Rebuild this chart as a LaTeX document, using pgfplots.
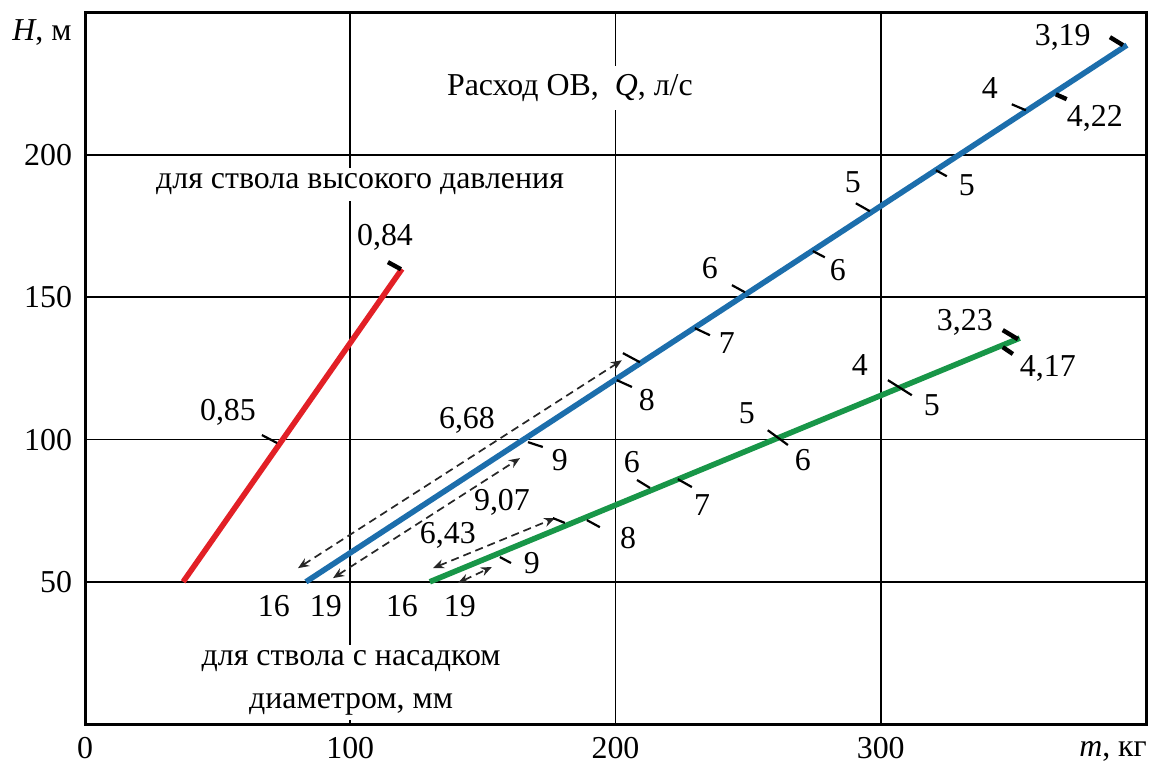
\documentclass[border=0pt]{standalone}
\usepackage{fontspec}
\setmainfont{Liberation Serif}
\usepackage{pgfplots}
\pgfplotsset{compat=1.18}
\usetikzlibrary{arrows.meta}
\definecolor{cred}{RGB}{226,32,38}
\definecolor{cblue}{RGB}{28,110,172}
\definecolor{cgreen}{RGB}{24,150,72}
\begin{document}
\fontsize{16}{19}\selectfont
\begin{tikzpicture}
\begin{axis}[
  at={(0,0)}, anchor=south west,
  scale only axis, width=530.5bp, height=355.5bp,
  xmin=0, xmax=400, ymin=0, ymax=250,
  xtick={0,100,200,300}, ytick={50,100,150,200},
  grid=major, major grid style={black, line width=0.9bp},
  axis line style={black, line width=1.5bp},
  major tick length=0pt,
  /pgf/number format/assume math mode=true,
  xticklabel style={inner sep=1bp, yshift=-5.5bp},
  yticklabel style={xshift=-1bp},
  clip=false,
  xlabel={\textit{m}, кг},
  xlabel style={inner sep=1bp, at={(axis description cs:0.9689,-0.039)}, anchor=center},
  ylabel={\textit{H}, м},
  ylabel style={rotate=-90, at={(axis description cs:-0.0405,0.972)}, anchor=center},
  unbounded coords=jump,
]
% text blocks
\node[fill=white, inner sep=3bp] at (axis cs:103.7,189.8) {для ствола высокого давления};
\node[fill=white, inner sep=4bp] at (axis cs:182.8,223.6) {Расход ОВ,~ \textit{Q}, л/с};
\node[fill=white, align=center, inner sep=2.5bp, font=\fontsize{16}{21.5}\selectfont] at (axis cs:100.3,14.6) {для ствола с насадком\\диаметром, мм};

% main lines
\addplot[cred, line width=2.8bp] coordinates {(37,50) (119.5,160)};
\addplot[cblue, line width=2.8bp] coordinates {(83.3,50) (392.8,238.7)};
\addplot[cgreen, line width=2.8bp] coordinates {(130,50) (352.4,135.7)};

% dashed arrows
\addplot[black!85, line width=0.85bp, dash pattern=on 4bp off 2.5bp, {Stealth[length=5.5bp,width=4.5bp]}-{Stealth[length=5.5bp,width=4.5bp]}] coordinates {(80.3,54.8) (202.4,127.9)};
\addplot[black!85, line width=0.85bp, dash pattern=on 4bp off 2.5bp, {Stealth[length=5.5bp,width=4.5bp]}-{Stealth[length=5.5bp,width=4.5bp]}] coordinates {(93.5,51.3) (164.0,93.5)};
\addplot[black!85, line width=0.85bp, dash pattern=on 4bp off 2.5bp, {Stealth[length=5.5bp,width=4.5bp]}-{Stealth[length=5.5bp,width=4.5bp]}] coordinates {(131.2,54.8) (177.2,72.4)};
\addplot[black!85, line width=0.85bp, dash pattern=on 4bp off 2.5bp, {Stealth[length=5.5bp,width=4.5bp]}-{Stealth[length=5.5bp,width=4.5bp]}] coordinates {(140.6,49.6) (153.4,55.2)};

% thin scale ticks
\addplot[black, line width=1.1bp] coordinates {
  (66.7,101.6) (72.4,98.8) (70,nan)
  (349.4,217.9) (354.7,215.8) (350,nan)
  (290.6,183.1) (295.9,180.3) (290,nan)
  (320.8,194.7) (324.9,192.6) (320,nan)
  (274.4,166.3) (278.9,164.1) (270,nan)
  (243.9,154.3) (248.8,151.8) (240,nan)
  (229.9,139.2) (235.6,136.7) (230,nan)
  (202.8,130.4) (209.2,127.2) (200,nan)
  (200.5,120.9) (206.2,118.5) (200,nan)
  (167.0,99.1) (172.6,97.4) (170,nan)
  (302.7,120.9) (311.7,115.6) (300,nan)
  (257.4,103.3) (265.0,98.1) (260,nan)
  (208.1,85.8) (213.0,83.0) (210,nan)
  (223.5,86.1) (228.8,83.3) (220,nan)
  (176.4,72.4) (180.9,70.7) (180,nan)
  (189.2,71.7) (194.1,69.2) (190,nan)
  (156.4,58.7) (160.6,56.6)
};
% thick end ticks
\addplot[black, line width=2.2bp] coordinates {
  (114.2,162.4) (119.1,159.9) (110,nan)
  (386.4,241.5) (391.3,238.7) (390,nan)
  (366.0,221.4) (370.1,219.7) (370,nan)
  (346.0,138.5) (351.7,135.3) (350,nan)
  (346.0,132.5) (349.8,130.1)
};

% value labels
\node at (axis cs:113.1,171.2) {0,84};
\node at (axis cs:53.9,109.7) {0,85};
\node at (axis cs:368.6,241.5) {3,19};
\node at (axis cs:341.1,223.6) {4};
\node at (axis cs:380.7,213.0) {4,22};
\node at (axis cs:289.5,190.5) {5};
\node at (axis cs:332.5,189.5) {5};
\node at (axis cs:283.8,159.6) {6};
\node at (axis cs:235.6,160.3) {6};
\node at (axis cs:242.0,133.9) {7};
\node at (axis cs:211.8,113.9) {8};
\node at (axis cs:179.0,92.8) {9};
\node at (axis cs:144.0,106.9) {6,68};
\node at (axis cs:157.2,78.0) {9,07};
\node at (axis cs:136.8,66.4) {6,43};
\node at (axis cs:331.7,141.3) {3,23};
\node at (axis cs:363.0,125.1) {4,17};
\node at (axis cs:292.1,126.2) {4};
\node at (axis cs:319.3,112.1) {5};
\node at (axis cs:249.5,109.3) {5};
\node at (axis cs:270.6,92.8) {6};
\node at (axis cs:206.2,92.1) {6};
\node at (axis cs:232.6,77.0) {7};
\node at (axis cs:204.7,65.4) {8};
\node at (axis cs:168.5,56.6) {9};
\node at (axis cs:71.2,41.5) {16};
\node at (axis cs:90.8,41.5) {19};
\node at (axis cs:119.5,41.5) {16};
\node at (axis cs:141.3,41.5) {19};
\end{axis}
\pgfresetboundingbox
\path (-42.5bp,-20.5bp) rectangle (538bp,362bp);
\end{tikzpicture}
\end{document}
